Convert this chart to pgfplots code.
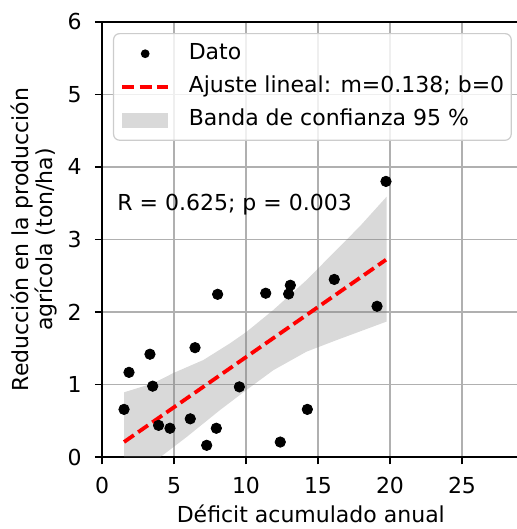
\documentclass[border=0pt]{standalone}
\usepackage{pgfplots}
\pgfplotsset{compat=1.18}
\usepackage{fontspec}
\setmainfont{DejaVu Sans}
\definecolor{gridgray}{HTML}{B0B0B0}
\definecolor{legframe}{HTML}{CCCCCC}
\definecolor{band}{HTML}{D9D9D9}

\begin{document}
\begin{tikzpicture}[font=\fontsize{11}{13}\selectfont]
\useasboundingbox (-51pt,-35.85pt) rectangle (207pt,228.65pt);
\begin{axis}[
  at={(0,0)}, anchor=south west,
  width=208.8pt, height=217.8pt, scale only axis,
  xmin=0, xmax=29, ymin=0, ymax=6,
  xtick={0,5,...,25}, ytick={0,1,...,6},
  xtick pos=left, ytick pos=left,
  tick align=outside, major tick length=3.5pt,
  every tick/.style={black, line width=0.8pt},
  axis line style={black, line width=0.8pt},
  grid=major, grid style={gridgray, line width=0.8pt},
  /pgf/number format/assume math mode=true,
  ticklabel style={font=\fontsize{11}{13}\selectfont},
  xticklabel style={inner sep=0pt, yshift=-6.2pt},
  yticklabel style={inner sep=0pt, xshift=-6.5pt},
  xlabel={Déficit acumulado anual},
  xlabel style={at={(axis description cs:0.5,-0.1508)}, anchor=base, inner sep=0pt},
  ylabel={Reducción en la producción\\agrícola (ton/ha)},
  ylabel style={at={(axis description cs:-0.1071,0.5)}, anchor=south, inner sep=0pt,
                align=center, font=\fontsize{11}{11.85}\selectfont},
  legend cell align=left,
  legend style={at={(axis description cs:0.0263,0.974)}, anchor=north west,
                draw=legframe, line width=0.6pt, rounded corners=3pt,
                fill=white, fill opacity=0.8, text opacity=1,
                inner xsep=3.5pt, inner ysep=4.9pt, row sep=6.3pt,
                nodes={inner sep=0pt, text height=8pt, text depth=2.3pt},
                /tikz/every odd column/.append style={column sep=9.5pt},
                font=\fontsize{11}{13}\selectfont},
]
% banda de confianza (borde superior de izq. a der., borde inferior de der. a izq.)
\addplot[fill=gray, fill opacity=0.3, draw=none, forget plot] coordinates {
  (1.53,0.895) (3.56,1.02) (4.95,1.16) (7.04,1.34) (8.89,1.57) (10.05,1.73)
  (11.9,2.03) (14.2,2.44) (16.3,2.86) (17.9,3.18) (19.77,3.59)
  (19.77,1.87) (16.3,1.615) (14.2,1.455) (11.9,1.20) (10.05,0.93) (8.19,0.65)
  (5.88,0.28) (4.03,0.0) (1.53,0.0) (1.53,0.895)
};
% ajuste lineal
\addplot[red, line width=1.9pt, dash pattern=on 6pt off 2.6pt, forget plot]
  coordinates {(1.53,0.211) (19.72,2.721)};
% datos
\addplot[only marks, mark=*, mark size=2.6pt, black,
  legend image code/.code={
    \path[draw=none, fill=none] (0,-2pt) rectangle (22.7pt,2pt);
    \fill[black, draw=none, fill opacity=1] (11.35pt,0) circle (2.2pt);}]
  coordinates {
  (1.53,0.66) (1.875,1.17) (3.33,1.42) (3.52,0.98) (3.93,0.44) (4.72,0.40)
  (6.13,0.53) (6.46,1.51) (7.27,0.165) (7.94,0.40) (8.03,2.245) (9.54,0.97)
  (11.37,2.26) (12.38,0.21) (12.96,2.25) (13.08,2.37) (14.26,0.66)
  (16.13,2.45) (19.10,2.08) (19.72,3.80)
};
\addlegendentry{Dato}
\addlegendimage{legend image code/.code={
  \draw[red, line width=1.9pt, sharp corners, dash pattern=on 6pt off 2.6pt]
    (0,0) -- (22.7pt,0);}}
\addlegendentry{Ajuste lineal: m=0.138; b=0}
\addlegendimage{legend image code/.code={
  \fill[band, draw=none, sharp corners, fill opacity=1] (0,-3.8pt) rectangle (22.7pt,3.8pt);}}
\addlegendentry{Banda de confianza 95 \%}
\node[anchor=base west, inner sep=0pt] at (axis cs:1.04,3.397) {R = 0.625; p = 0.003};
\end{axis}
\end{tikzpicture}
\end{document}
